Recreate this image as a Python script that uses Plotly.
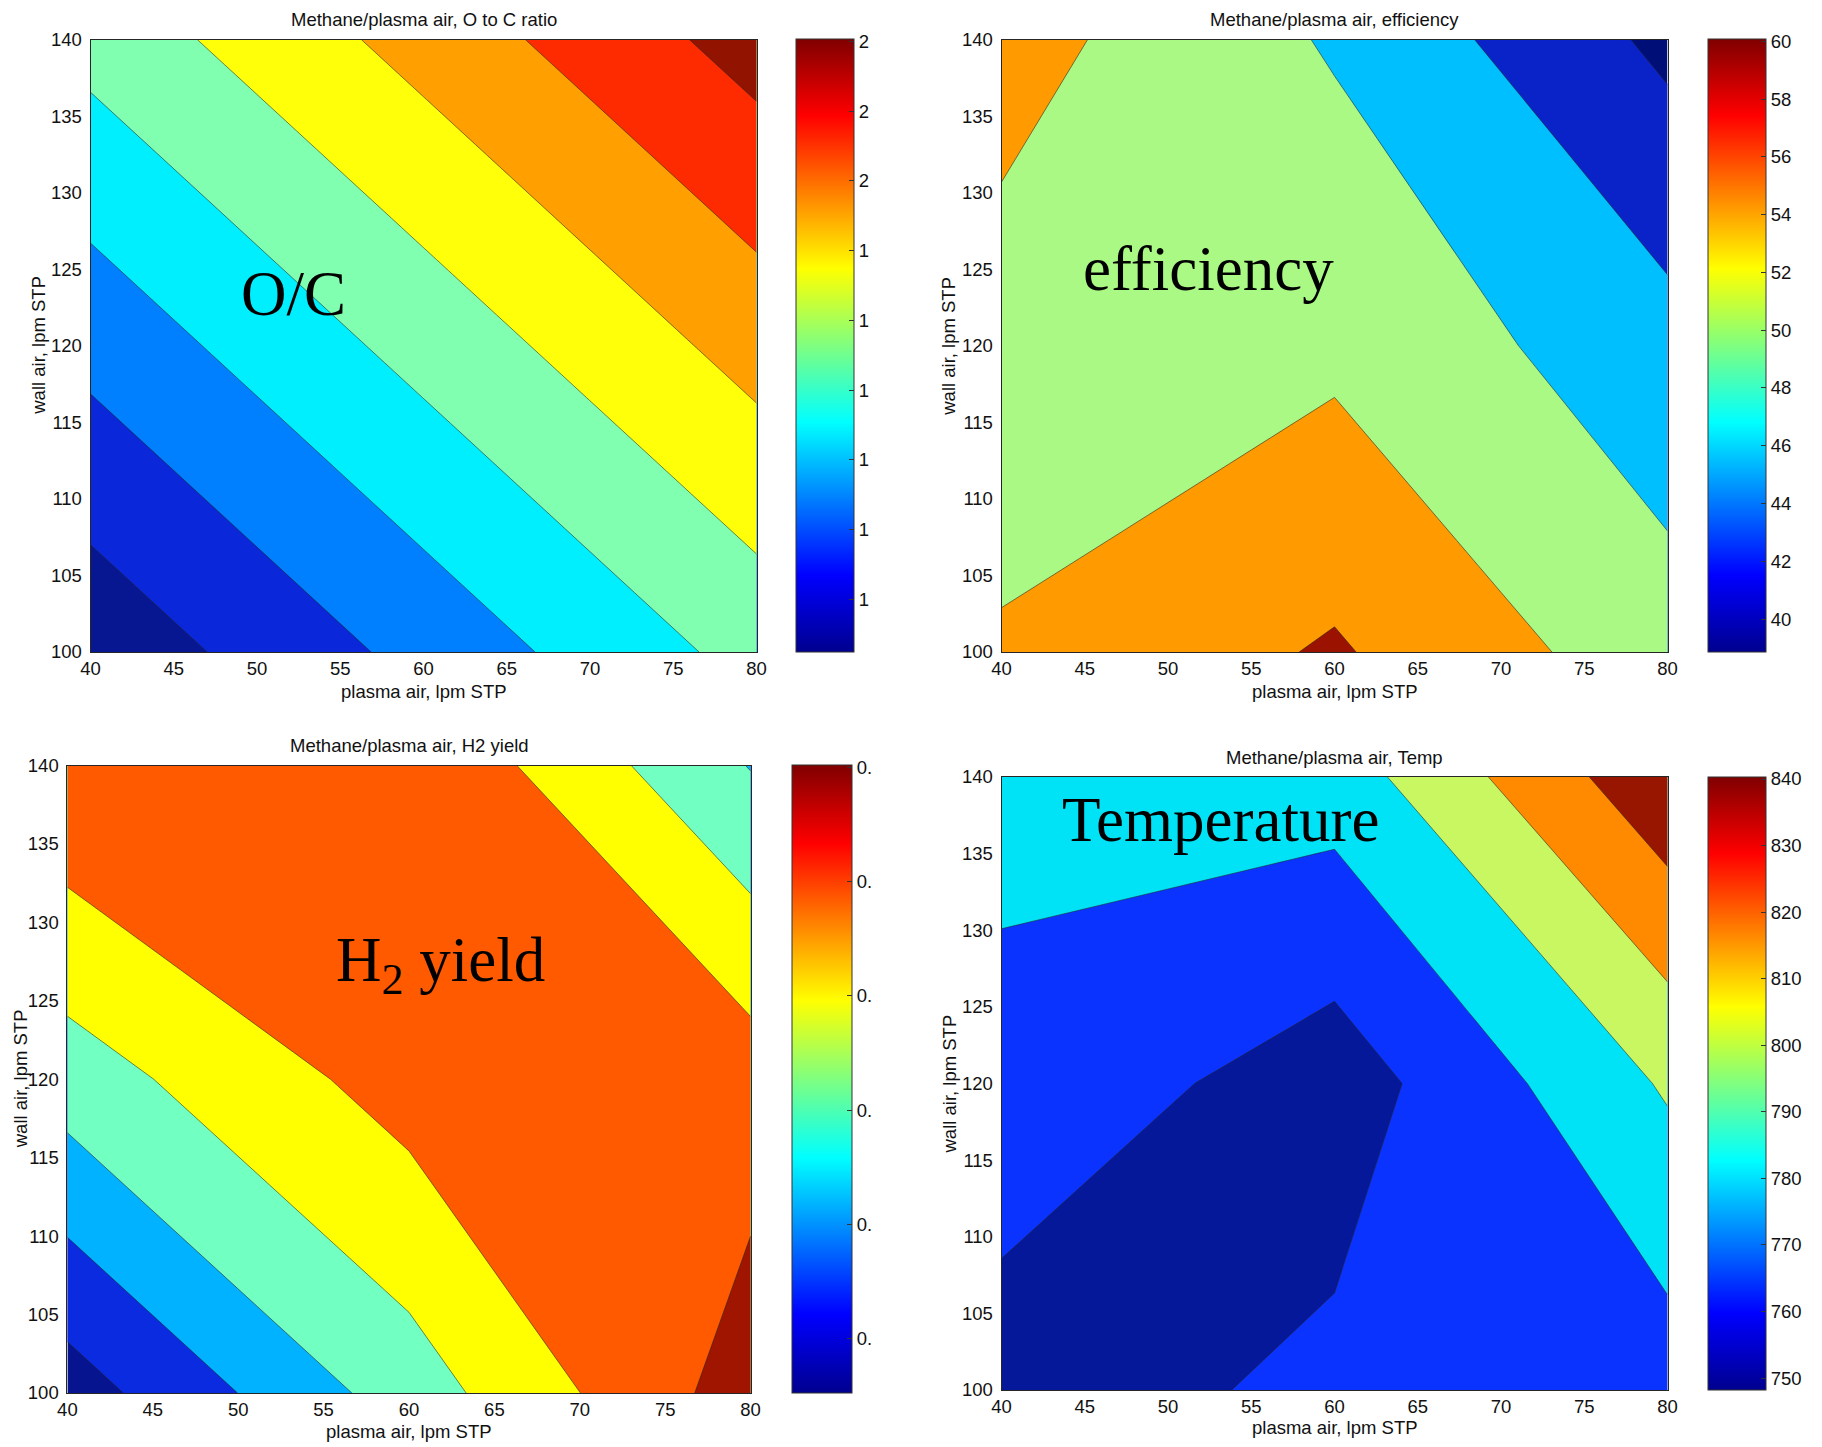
import plotly.graph_objects as go

# page body has an 8px margin, so the figure is drawn 8px in from the window corner
OFF = 8
W, H = 1822 - OFF, 1447 - OFF

# ---------------- data (3 x 3 experimental grid) ----------------
plasma_air = [40, 60, 80]          # lpm STP (x)
wall_air = [100, 120, 140]         # lpm STP (y)

# rows follow wall_air, columns follow plasma_air
oc_ratio = [[1.429, 1.632, 1.835],
            [1.632, 1.835, 2.038],
            [1.835, 2.038, 2.241]]
efficiency = [[54.30, 58.44, 51.64],
              [52.23, 53.10, 47.49],
              [55.54, 49.58, 41.06]]
h2_yield = [[0.396, 0.665, 0.934],
            [0.666, 0.840, 0.846],
            [0.885, 0.885, 0.616]]
temperature = [[748.8, 765.0, 769.9],
               [774.9, 749.2, 802.4],
               [785.0, 789.5, 855.5]]

# contour levels (start, last, step)
oc_levels = (1.5, 2.2, 0.1)
eff_levels = (42, 58, 4)
h2_levels = (0.44, 0.89, 0.09)
temp_levels = (760, 840, 20)

x_ticks = [40, 45, 50, 55, 60, 65, 70, 75, 80]
y_ticks = [100, 105, 110, 115, 120, 125, 130, 135, 140]

oc_cbar_ticks = [1.4, 1.5, 1.6, 1.7, 1.8, 1.9, 2.0, 2.1, 2.2]
oc_cbar_labels = ["1", "1", "1", "1", "1", "1", "2", "2", "2"]
eff_cbar_ticks = [40, 42, 44, 46, 48, 50, 52, 54, 56, 58, 60]
eff_cbar_labels = [str(v) for v in eff_cbar_ticks]
h2_cbar_ticks = [0.4, 0.5, 0.6, 0.7, 0.8, 0.9]
h2_cbar_labels = ["0.", "0.", "0.", "0.", "0.", "0."]
temp_cbar_ticks = [750, 760, 770, 780, 790, 800, 810, 820, 830, 840]
temp_cbar_labels = [str(v) for v in temp_cbar_ticks]

oc_cbar_range = (1.324, 2.203)
eff_cbar_range = (38.85, 60.07)
h2_cbar_range = (0.352, 0.902)
temp_cbar_range = (748.2, 840.3)

titles = ["Methane/plasma air, O to C ratio", "Methane/plasma air, efficiency",
          "Methane/plasma air, H2 yield", "Methane/plasma air, Temp"]
labels = ["O/C", "efficiency", "H<sub>2</sub> yield", "Temperature"]
x_title = "plasma air, lpm STP"
y_title = "wall air, lpm STP"

# ---------------- styles ----------------
JET = [[0.0, "#00008f"], [0.125, "#0000ff"], [0.375, "#00ffff"],
       [0.625, "#ffff00"], [0.875, "#ff0000"], [1.0, "#800000"]]

band_colors = [
    ["#071791", "#0a27da", "#0080ff", "#00efff", "#80ffb0", "#ffff0a", "#ffa000", "#ff2b00", "#921300"],
    ["#000f78", "#0a23c9", "#00bfff", "#aaf985", "#ff9a00", "#9b1200"],
    ["#071490", "#0a2be0", "#00b2ff", "#72ffc2", "#ffff00", "#ff5a00", "#a01500"],
    ["#06189a", "#0b33ff", "#00e3f6", "#c9f762", "#ff8a00", "#981600"],
]

# pixel geometry of each panel (window coordinates)
panels = [
    dict(px=(90.6, 756.5), py=(39.5, 652.0), cb=(796, 854), ty=19.7, xty=691, ytx=39,
         lab=(52.2, 123.4)),
    dict(px=(1001.6, 1667.5), py=(39.5, 652.0), cb=(1708, 1766), ty=19.7, xty=691, ytx=949,
         lab=(52.4, 125.0)),
    dict(px=(67.4, 750.6), py=(765.5, 1393.0), cb=(792, 852), ty=745, xty=1431, ytx=20,
         lab=(61.85, 127.3)),
    dict(px=(1001.6, 1667.5), py=(777.0, 1390.0), cb=(1708, 1766), ty=757, xty=1427, ytx=949,
         lab=(53.15, 137.2)),
]

zs = [oc_ratio, efficiency, h2_yield, temperature]
levels = [oc_levels, eff_levels, h2_levels, temp_levels]
cb_ranges = [oc_cbar_range, eff_cbar_range, h2_cbar_range, temp_cbar_range]
cb_ticks = [oc_cbar_ticks, eff_cbar_ticks, h2_cbar_ticks, temp_cbar_ticks]
cb_labels = [oc_cbar_labels, eff_cbar_labels, h2_cbar_labels, temp_cbar_labels]

SANS = "Liberation Sans, Arial, sans-serif"
SERIF = "Liberation Serif, Times New Roman, serif"
TXT = "#111111"
small = dict(family=SANS, size=18.5, color=TXT)


def fx(px):
    return (px - OFF) / W


def fy(py):
    return 1 - (py - OFF) / H


fig = go.Figure()
annotations = []
layout = dict(width=W, height=H, margin=dict(l=0, r=0, t=0, b=0, autoexpand=False),
              paper_bgcolor="white", plot_bgcolor="white", showlegend=False)

for k in range(4):
    p = panels[k]
    sfx = "" if k == 0 else str(k + 1)
    xa, ya = "x" + sfx, "y" + sfx
    start, last, step = levels[k]
    cols = band_colors[k]
    n = len(cols)
    cscale = [[i / (n - 1), c] for i, c in enumerate(cols)]

    fig.add_trace(go.Contour(
        x=plasma_air, y=wall_air, z=zs[k], xaxis=xa, yaxis=ya,
        autocontour=False,
        contours=dict(start=start, end=last + step / 2, size=step,
                      coloring="fill", showlines=True),
        colorscale=cscale, showscale=False,
        line=dict(width=0.7, color="rgba(35,35,35,0.8)", smoothing=0),
        hoverinfo="skip"))

    cmin, cmax = cb_ranges[k]
    top, bot = p["py"]
    fig.add_trace(go.Scatter(
        x=[plasma_air[1]], y=[wall_air[1]], xaxis=xa, yaxis=ya, mode="markers",
        marker=dict(size=1, opacity=0, color=[cmin], cmin=cmin, cmax=cmax,
                    colorscale=JET, showscale=True,
                    colorbar=dict(x=fx(p["cb"][0]), xanchor="left",
                                  y=fy((top + bot) / 2), yanchor="middle",
                                  len=(bot - top) / H, lenmode="fraction",
                                  thickness=p["cb"][1] - p["cb"][0], thicknessmode="pixels",
                                  xpad=0, ypad=0, outlinewidth=1, outlinecolor="#333333",
                                  tickvals=cb_ticks[k], ticktext=cb_labels[k],
                                  ticks="inside", ticklen=5, tickcolor="#333333",
                                  tickfont=small)),
        hoverinfo="skip", showlegend=False))

    x0, x1 = p["px"]
    layout["xaxis" + sfx] = dict(domain=[fx(x0), fx(x1)], range=[40, 80], anchor=ya,
                                 tickvals=x_ticks, showline=True, mirror=True,
                                 linecolor="#262626", linewidth=1, ticks="",
                                 showgrid=False, zeroline=False, tickfont=small,
                                 ticklabelstandoff=0, automargin=False)
    layout["yaxis" + sfx] = dict(domain=[fy(bot), fy(top)], range=[100, 140], anchor=xa,
                                 tickvals=y_ticks, showline=True, mirror=True,
                                 linecolor="#262626", linewidth=1, ticks="",
                                 showgrid=False, zeroline=False, tickfont=small,
                                 ticklabelstandoff=4, automargin=False)

    cx = fx((x0 + x1) / 2)
    annotations.append(dict(text=titles[k], xref="paper", yref="paper", x=cx, y=fy(p["ty"]),
                            xanchor="center", yanchor="middle", showarrow=False, font=small))
    annotations.append(dict(text=x_title, xref="paper", yref="paper", x=cx, y=fy(p["xty"]),
                            xanchor="center", yanchor="middle", showarrow=False, font=small))
    annotations.append(dict(text=y_title, xref="paper", yref="paper", x=fx(p["ytx"]),
                            y=fy((top + bot) / 2), xanchor="center", yanchor="middle",
                            textangle=-90, showarrow=False, font=small))
    annotations.append(dict(text=labels[k], xref=xa, yref=ya, x=p["lab"][0], y=p["lab"][1],
                            xanchor="center", yanchor="middle", showarrow=False,
                            font=dict(family=SERIF, size=63, color="black")))

layout["annotations"] = annotations
fig.update_layout(**layout)
fig.write_html("out.html")
